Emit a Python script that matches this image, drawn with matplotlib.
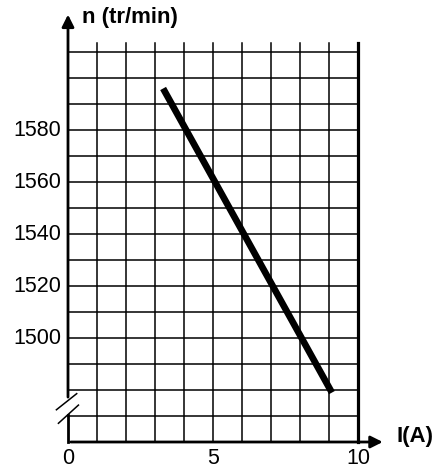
import matplotlib.pyplot as plt

# current I (A) and speed n (tr/min)
current = [3.28, 9.1]
speed = [1596, 1479]

x_ticks = [0, 5, 10]
y_ticks = [1500, 1520, 1540, 1560, 1580]

x_grid = list(range(1, 10))
y_grid = list(range(1470, 1620, 10))

y_bottom = 1460
y_top = 1613.5

plt.rcParams["font.family"] = ["Liberation Sans", "DejaVu Sans"]

fig = plt.figure(figsize=(4.39, 4.68), dpi=100)
ax = fig.add_axes([68 / 439, 26 / 468, 290 / 439, 399 / 468])
ax.set_xlim(0, 10)
ax.set_ylim(y_bottom, y_top)
ax.axis("off")

# grid
for gx in x_grid:
    ax.plot([gx, gx], [y_bottom, y_top], color="black", lw=1.1, clip_on=False)
for gy in y_grid:
    ax.plot([0, 10], [gy, gy], color="black", lw=1.1, clip_on=False)

# thick border at I = 10
ax.plot([10, 10], [y_bottom, y_top], color="black", lw=2.3, clip_on=False)

# axes with arrows
ax.annotate("", xy=(10.95, y_bottom), xytext=(0, y_bottom),
            arrowprops=dict(arrowstyle="-|>", lw=2, color="black", mutation_scale=18),
            annotation_clip=False)
ax.annotate("", xy=(0, 1625.5), xytext=(0, 1476.2),
            arrowprops=dict(arrowstyle="-|>", lw=2, color="black", mutation_scale=18),
            annotation_clip=False)
ax.plot([0, 0], [y_bottom, 1470.2], color="black", lw=2, clip_on=False)

# axis break
ax.plot([-0.4, 0.3], [1472.4, 1478.6], color="black", lw=1.1, clip_on=False)
ax.plot([-0.33, 0.36], [1467.2, 1474.2], color="black", lw=1.1, clip_on=False)

# characteristic
ax.plot(current, speed, color="black", lw=4.8, solid_capstyle="butt", clip_on=False)

# labels
for t in y_ticks:
    ax.text(-0.24, t, str(t), ha="right", va="center", fontsize=15.5)
for t in x_ticks:
    ax.text(t, 1453.8, str(t), ha="center", va="center", fontsize=15.5)

ax.text(0.48, 1623.5, "n (tr/min)", ha="left", va="center", fontsize=16, fontweight="bold")
ax.text(11.34, 1462, "I(A)", ha="left", va="center", fontsize=16, fontweight="bold")

plt.savefig("out.png", dpi=100)
